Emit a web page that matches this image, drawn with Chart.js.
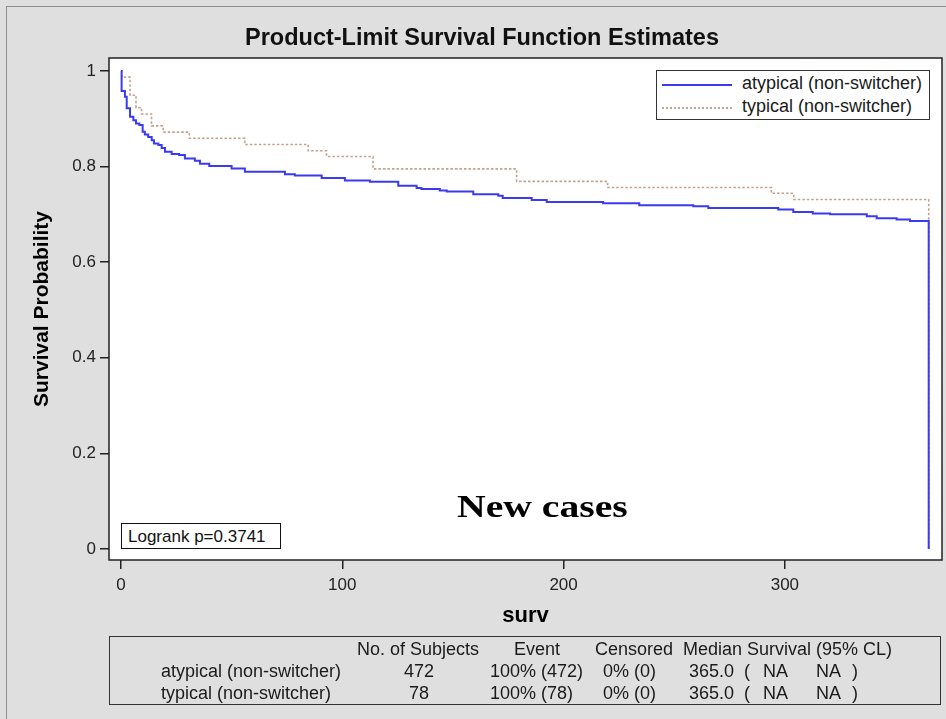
<!DOCTYPE html>
<html>
<head>
<meta charset="utf-8">
<title>Product-Limit Survival Function Estimates</title>
<script src="https://cdn.jsdelivr.net/npm/chart.js@4.4.1/dist/chart.umd.min.js"></script>
<style>
html, body { margin: 0; padding: 0; }
body {
    width: 946px; height: 719px; overflow: hidden; position: relative;
    background: #dfdfdf;
    font-family: "Liberation Sans", Arial, sans-serif; color: #111;
}
#frame { position: absolute; left: 6px; top: 6px; width: 1000px; height: 1000px; border: 1.5px solid #8c8c8c; }
#surv-chart { position: absolute; left: 0; top: 0; }
.txt { position: absolute; white-space: nowrap; line-height: 1; }
#title { left: 482px; top: 26px; transform: translateX(-50%); font-size: 23.5px; font-weight: bold; }
#legend { position: absolute; left: 656px; top: 70px; width: 272px; height: 48px; border: 1.5px solid #333; background: #fff; }
.lg-line { position: absolute; left: 5px; width: 70px; height: 0; }
#logrank { position: absolute; left: 121px; top: 523px; width: 158px; height: 24px; border: 1.5px solid #111; background: #fff; }
#new-cases { left: 457px; top: 490px; font-family: "Liberation Serif", "Times New Roman", serif; font-weight: bold; font-size: 32px; transform: scaleX(1.24); transform-origin: left top; color: #000; }
#stats { position: absolute; left: 109px; top: 636px; width: 830px; height: 67px; border: 1.5px solid #333; }
#stats .txt { font-size: 18px; color: #1a1a1a; }
</style>
</head>
<body>
<div id="frame"></div>
<canvas id="surv-chart" width="946" height="719"></canvas>
<div class="txt" id="title">Product-Limit Survival Function Estimates</div>
<div id="legend"></div>
<div id="logrank"><div class="txt" style="left:6px; top:4px; font-size:17px;">Logrank p=0.3741</div></div>
<div class="txt" id="new-cases">New cases</div>
<div id="stats"></div>

<script>
// Kaplan-Meier step points (time in days, survival after the drop)
const atypicalTime = [0, 0.3, 1.8, 2.6, 4.1, 5.6, 6.8, 8.3, 9.8, 10.8, 12.3, 13.9, 14.9, 16.9, 18.4, 19.9,
    22.9, 26.3, 28.9, 33.4, 35.7, 39.9, 50.0, 56.0, 74.1, 78.6, 90.7, 101.2, 112.5, 125.3, 133.6, 135.8,
    144.1, 147.2, 159.2, 170.5, 172.5, 185.6, 192.4, 217.9, 234.2, 258.6, 265.4, 297.0, 303.8, 312.6,
    320.4, 337.0, 341.5, 350.5, 356.5, 365];
const atypicalSurv = [1, 0.958, 0.946, 0.922, 0.904, 0.897, 0.890, 0.887, 0.873, 0.867, 0.862, 0.855, 0.848, 0.845, 0.839, 0.831,
    0.826, 0.824, 0.817, 0.812, 0.806, 0.801, 0.796, 0.789, 0.784, 0.781, 0.776, 0.771, 0.768, 0.760, 0.755, 0.753,
    0.750, 0.748, 0.742, 0.739, 0.734, 0.730, 0.726, 0.723, 0.719, 0.717, 0.713, 0.710, 0.705, 0.702,
    0.700, 0.696, 0.692, 0.689, 0.686, 0];

const typicalTime = [0, 0.4, 4.1, 6.8, 9.3, 13.8, 19.1, 30.9, 56.0, 84.6, 92.9, 113.9, 178.8, 219.9, 293.9, 304.0, 365];
const typicalSurv = [1, 0.987, 0.949, 0.923, 0.910, 0.885, 0.872, 0.859, 0.846, 0.833, 0.821, 0.795, 0.769, 0.756, 0.744, 0.731, 0];

const xTicks = [0, 100, 200, 300];
const yTicks = [0, 0.2, 0.4, 0.6, 0.8, 1];

const groupNames = ['atypical (non-switcher)', 'typical (non-switcher)'];
const subjects = [472, 78];
const events = ['100% (472)', '100% (78)'];
const censored = ['0% (0)', '0% (0)'];
const medianSurv = ['365.0', '365.0'];
const lowerCL = ['NA', 'NA'];
const upperCL = ['NA', 'NA'];
const statHeaders = ['No. of Subjects', 'Event', 'Censored', 'Median Survival (95% CL)'];

const lineColors = ['#3a3af2', '#c2a28c'];

// ------ legend & summary table (HTML) ------
const legend = document.getElementById('legend');
groupNames.forEach((name, i) => {
    const y = i === 0 ? 13 : 36;
    const line = document.createElement('div');
    line.className = 'lg-line';
    line.style.top = y + 'px';
    line.style.borderTop = i === 0 ? `2px solid ${lineColors[0]}` : `2px dotted ${lineColors[1]}`;
    legend.appendChild(line);
    const label = document.createElement('div');
    label.className = 'txt';
    label.style.cssText = `left:85px; top:${y - 10}px; font-size:18px; color:#1a1a1a;`;
    label.textContent = name;
    legend.appendChild(label);
});

const stats = document.getElementById('stats');
function put(text, left, top, center) {
    const d = document.createElement('div');
    d.className = 'txt';
    d.textContent = text;
    d.style.left = left + 'px';
    d.style.top = top + 'px';
    if (center) d.style.transform = 'translateX(-50%)';
    stats.appendChild(d);
}
// positions relative to the table box (left 109, top 636)
const headLeft = [247, 404, 485, 573];
statHeaders.forEach((h, i) => put(h, headLeft[i], 3));
groupNames.forEach((name, i) => {
    const top = 25 + i * 21.5;
    put(name, 51, top);
    put(String(subjects[i]), 309, top, true);
    put(events[i], 380, top);
    put(censored[i], 493, top);
    put(medianSurv[i], 579, top);
    put('(', 634, top);
    put(lowerCL[i], 653, top);
    put(upperCL[i], 706, top);
    put(')', 742, top);
});

// ------ chart ------
const plotFrame = {
    id: 'plotFrame',
    beforeDatasetsDraw(chart) {
        const { ctx, chartArea: a } = chart;
        ctx.save();
        ctx.fillStyle = '#ffffff';
        ctx.fillRect(a.left, a.top, a.right - a.left, a.bottom - a.top);
        ctx.restore();
    },
    afterDraw(chart) {
        const { ctx, chartArea: a } = chart;
        ctx.save();
        ctx.strokeStyle = '#222';
        ctx.lineWidth = 1.5;
        ctx.strokeRect(a.left, a.top, a.right - a.left, a.bottom - a.top);
        ctx.restore();
    }
};

const tickFont = { family: "'Liberation Sans', Arial, sans-serif", size: 17 };
const titleFont = { family: "'Liberation Sans', Arial, sans-serif", size: 21, weight: 'bold' };

new Chart(document.getElementById('surv-chart'), {
    type: 'line',
    data: {
        datasets: [{
            label: groupNames[0],
            data: atypicalTime.map((t, i) => ({ x: t, y: atypicalSurv[i] })),
            borderColor: lineColors[0],
            borderWidth: 2,
            pointRadius: 0,
            stepped: 'before',
            fill: false
        }, {
            label: groupNames[1],
            data: typicalTime.map((t, i) => ({ x: t, y: typicalSurv[i] })),
            borderColor: lineColors[1],
            borderWidth: 1.6,
            borderDash: [2.5, 2],
            pointRadius: 0,
            stepped: 'before',
            fill: false
        }]
    },
    options: {
        responsive: false,
        animation: false,
        devicePixelRatio: 1,
        layout: { padding: { left: 0, top: 58, right: 4, bottom: 0 } },
        plugins: {
            legend: { display: false },
            title: { display: false },
            tooltip: { enabled: false }
        },
        scales: {
            x: {
                type: 'linear',
                min: -5.4,
                max: 371,
                afterBuildTicks: s => { s.ticks = xTicks.map(v => ({ value: v })); },
                afterFit: s => { s.height = 159; },
                grid: { drawOnChartArea: false, drawTicks: true, tickLength: 9, color: '#222', tickColor: '#222', lineWidth: 1.5 },
                border: { display: false },
                ticks: { font: tickFont, color: '#222', padding: 6, maxRotation: 0 },
                title: { display: true, text: 'surv', font: { ...titleFont, size: 22 }, color: '#000', padding: { top: 0, bottom: 90 } }
            },
            y: {
                type: 'linear',
                min: -0.023,
                max: 1.027,
                afterBuildTicks: s => { s.ticks = yTicks.map(v => ({ value: v })); },
                afterFit: s => { s.width = 109; },
                grid: { drawOnChartArea: false, drawTicks: true, tickLength: 9, color: '#222', tickColor: '#222', lineWidth: 1.5 },
                border: { display: false },
                ticks: { font: tickFont, color: '#222', padding: 4, callback: v => String(v) },
                title: { display: true, text: 'Survival Probability', font: titleFont, color: '#000', padding: { top: 30, bottom: 0 } }
            }
        }
    },
    plugins: [plotFrame]
});
</script>
</body>
</html>
